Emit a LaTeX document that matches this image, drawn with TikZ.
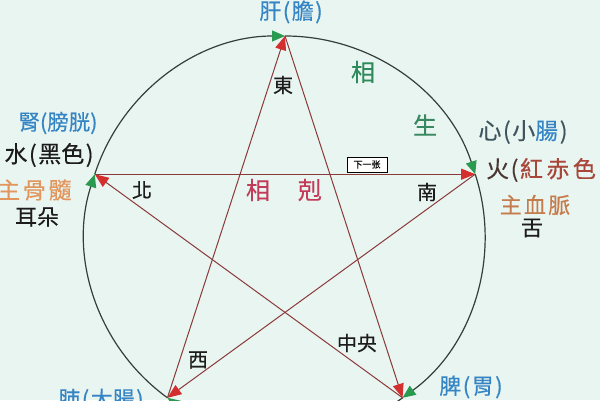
\documentclass[tikz,border=0pt]{standalone}
\usepackage{fontspec}
\setmainfont{Noto Sans CJK TC}[FakeBold=0.4]
\usetikzlibrary{arrows.meta}
\definecolor{bg}{HTML}{E9F5F0}
\definecolor{circ}{HTML}{33403A}
\definecolor{starline}{HTML}{8A3A3A}
\definecolor{tipred}{HTML}{D32F2F}
\definecolor{tipgreen}{HTML}{2A9A50}
\definecolor{organ}{HTML}{3585C5}
\definecolor{dark}{HTML}{1C1C1C}
\definecolor{slate}{HTML}{3E5560}
\definecolor{brownd}{HTML}{4A3732}
\definecolor{redbrown}{HTML}{A8463A}
\definecolor{orangeA}{HTML}{E2955C}
\definecolor{orangeB}{HTML}{C57C4C}
\definecolor{shenggreen}{HTML}{2E8A5C}
\definecolor{kered}{HTML}{C23C5A}
\newcommand{\fs}[2]{\fontsize{#1}{#1}\selectfont\addfontfeature{LetterSpace=#2}}
\newcommand{\lp}{\hspace{1.5pt}(\hspace{1.5pt}}
\newcommand{\rp}{\hspace{1.5pt})}
\tikzset{
  lbl/.style={inner sep=0pt, font=\fs{22}{0}},
  inner/.style={inner sep=0pt, font=\fs{20}{0}, text=dark},
  big/.style={inner sep=0pt, font=\fs{24}{0}},
  cyc/.style={draw=circ, line width=1.2pt, -{Triangle[length=13pt,width=11pt,color=tipgreen]}},
  ke/.style={draw=starline, line width=1pt, -{Triangle[length=14pt,width=11pt,color=tipred]}}
}
\begin{document}
\begin{tikzpicture}[x=1pt,y=1pt]
\fill[bg] (0,0) rectangle (600,400);
\useasboundingbox (0,0) rectangle (600,400);
\coordinate (C) at (285,164);
\coordinate (T) at (285,364);
\coordinate (R) at (475.21,225.80);
\coordinate (BR) at (402.56,2.20);
\coordinate (BL) at (167.44,2.20);
\coordinate (L) at (94.79,225.80);
% generating cycle (circle arcs)
\draw[cyc] (L) arc[start angle=162, end angle=90, radius=200];
\draw[cyc] (T) arc[start angle=90, end angle=18, radius=200];
\draw[cyc] (R) arc[start angle=18, end angle=-54, radius=200];
\draw[cyc] (BR) arc[start angle=-54, end angle=-126, radius=200];
\draw[cyc] (BL) arc[start angle=-126, end angle=-198, radius=200];
% controlling cycle (star)
\draw[ke] (T) -- (BR);
\draw[ke] (BR) -- (L);
\draw[ke] (L) -- (R);
\draw[ke] (R) -- (BL);
\draw[ke] (BL) -- (T);
% inner labels
\node[inner] (east) at (283,315) {東};
\node[inner] (north) at (142,210) {北};
\node[inner] (south) at (427,208) {南};
\node[inner] (west) at (198,40) {西};
\node[inner] (centre) at (357,57) {中央};
\node[big, text=shenggreen] (xiang1) at (363,328) {相};
\node[big, text=shenggreen!85!gray] (sheng) at (425,275) {生};
\node[big, text=kered] (xiang2) at (258,210) {相};
\node[big, text=kered] (ke) at (310,210) {剋};
\node[draw=black, fill=white, line width=0.7pt, inner sep=0pt, minimum width=40pt, minimum height=15pt, font=\fs{9}{0}] (next) at (367,235.5) {下一张};
% outer labels
\node[lbl, text=organ] (gan) at (291,388) {肝\lp 膽\rp};
\node[lbl, font=\fs{21.5}{0}, text=organ] (shen) at (58,277) {腎(膀胱)};
\node[lbl, font=\fs{23}{0}, text=dark] (shui) at (49,245) {水\lp 黑色\rp};
\node[lbl, font=\fs{23}{12}, text=orangeA, anchor=west] (gusui) at (-3,210) {主骨髓};
\node[lbl, text=dark] (erduo) at (37,183) {耳朵};
\node[lbl, font=\fs{23}{0}, text=slate] (xin) at (523,268) {心\lp 小\textcolor{organ}{腸}\rp};
\node[lbl, font=\fs{23}{0}, text=brownd, anchor=west] (huo) at (486,230) {火\lp\addfontfeature{LetterSpace=15}\textcolor{redbrown}{紅赤色}};
\node[lbl, font=\fs{22}{10}, text=orangeB] (xuemai) at (535,195) {主血脈};
\node[lbl, text=dark] (she) at (532,172) {舌};
\node[lbl, text=organ] (pi) at (471,13) {脾\lp 胃\rp};
\node[lbl, text=organ] (fei) at (101,0) {肺\lp 大腸\rp};
\end{tikzpicture}
\end{document}
